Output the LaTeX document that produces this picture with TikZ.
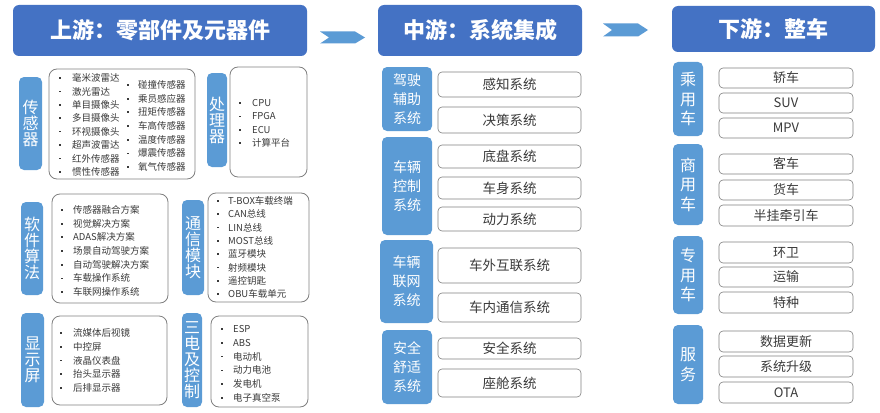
\documentclass[tikz,border=0pt]{standalone}
\usepackage{fontspec}
\setmainfont{Noto Sans CJK SC}
\definecolor{hdrblue}{HTML}{4472C4}
\definecolor{labblue}{HTML}{5B9BD5}
\definecolor{bordergray}{HTML}{808080}
\definecolor{txtgray}{HTML}{3A3A3A}
\newcommand\RBox[7]{\node[#1, minimum width={(#5-#3)*1pt}, minimum height={(#6-#4)*1pt}] (#2) at ({(#3+#5)/2},{(#4+#6)/2}) {#7};}
\tikzset{
 hdr/.style={fill=hdrblue, rounded corners=6pt, text=white, font=\fontsize{22}{24}\selectfont\bfseries, inner sep=0pt},
 lab/.style={fill=labblue, rounded corners=5pt, text=white, align=center, inner sep=0pt, font=\fontsize{16}{16}\selectfont},
 mlab/.style={lab, font=\fontsize{14}{19}\selectfont},
 dlab/.style={lab, font=\fontsize{16}{19.5}\selectfont},
 lst/.style={draw=bordergray, rounded corners=8pt, line width=0.8pt, fill=white, inner sep=0pt},
 itm/.style={draw=bordergray, rounded corners=4pt, line width=0.6pt, text=txtgray, inner sep=0pt, font=\fontsize{13.5}{14}\selectfont},
 ditm/.style={itm, font=\fontsize{13}{14}\selectfont},
 li/.style={anchor=west, inner sep=0pt, text=txtgray, font=\fontsize{9.5}{10}\selectfont},
 bul/.style={fill=txtgray, minimum size=1.7pt, inner sep=0pt},
 chev/.style={fill=labblue},
}
\begin{document}
\begin{tikzpicture}[x=1pt,y=-1pt]
\fill[white] (0,0) rectangle (880,412);
\useasboundingbox (0,0) rectangle (880,412);
% headers
\RBox{hdr}{h1}{13}{5}{307}{56}{上游：零部件及元器件}
\RBox{hdr}{h2}{378}{5}{582}{56}{中游：系统集成}
\RBox{hdr}{h3}{672}{6}{875}{52}{下游：整车}
% chevrons
\coordinate (c1) at (320,31.5);
\fill[chev] (c1) -- ++(35,0) -- ++(10,6) -- ++(-10,6) -- ++(-35,0) -- ++(9,-6) -- cycle;
\coordinate (c2) at (603,23.5);
\fill[chev] (c2) -- ++(35,0) -- ++(10,6.5) -- ++(-10,6.5) -- ++(-35,0) -- ++(9,-6.5) -- cycle;

% ===== upstream =====
\RBox{lab}{l1}{19}{77}{42}{170}{传\\感\\器}
\RBox{lst}{b1}{49}{69}{195}{179}{}
\foreach \t [count=\i] in {毫米波雷达,激光雷达,单目摄像头,多目摄像头,环视摄像头,超声波雷达,红外传感器,惯性传感器}{
  \pgfmathsetmacro\yy{78+(\i-1)*13.4}
  \node[bul] (sa\i b) at (60,\yy) {};
  \node[li] (sa\i) at (72,\yy) {\t};
}
\foreach \t [count=\i] in {碰撞传感器,乘员感应器,扭矩传感器,车高传感器,温度传感器,爆震传感器,氧气传感器}{
  \pgfmathsetmacro\yy{85+(\i-1)*13.67}
  \node[bul] (sb\i b) at (128,\yy) {};
  \node[li] (sb\i) at (138,\yy) {\t};
}
\RBox{lab}{l2}{207}{73}{227}{167}{处\\理\\器}
\RBox{lst}{b2}{230}{67}{307}{177}{}
\foreach \t [count=\i] in {CPU,FPGA,ECU,计算平台}{
  \pgfmathsetmacro\yy{103+(\i-1)*13.4}
  \node[bul] (p\i b) at (240,\yy) {};
  \node[li] (p\i) at (252,\yy) {\t};
}
\RBox{lab}{l3}{21}{202}{43}{295}{软\\件\\算\\法}
\RBox{lst}{b3}{52}{194}{168}{303}{}
\foreach \t [count=\i] in {传感器融合方案,视觉解决方案,ADAS解决方案,场景自动驾驶方案,自动驾驶解决方案,车载操作系统,车联网操作系统}{
  \pgfmathsetmacro\yy{210+(\i-1)*13.67}
  \node[bul] (sw\i b) at (62,\yy) {};
  \node[li] (sw\i) at (73,\yy) {\t};
}
\RBox{lab}{l4}{182}{200}{204}{295}{通\\信\\模\\块}
\RBox{lst}{b4}{208}{193}{309}{302}{}
\foreach \t [count=\i] in {T-BOX车载终端,CAN总线,LIN总线,MOST总线,蓝牙模块,射频模块,遥控钥匙,OBU车载单元}{
  \pgfmathsetmacro\yy{201+(\i-1)*13.3}
  \node[bul] (cm\i b) at (218,\yy) {};
  \node[li] (cm\i) at (228,\yy) {\t};
}
\RBox{lab}{l5}{21}{313}{44}{407}{显\\示\\屏}
\RBox{lst}{b5}{52}{316}{167}{405}{}
\foreach \t [count=\i] in {流媒体后视镜,中控屏,液晶仪表盘,抬头显示器,后排显示器}{
  \pgfmathsetmacro\yy{333+(\i-1)*13.75}
  \node[bul] (ds\i b) at (61,\yy) {};
  \node[li] (ds\i) at (73,\yy) {\t};
}
\RBox{lab}{l6}{182}{313}{202}{407}{三\\电\\及\\控\\制}
\RBox{lst}{b6}{211}{316}{308}{407}{}
\foreach \t [count=\i] in {ESP,ABS,电动机,动力电池,发电机,电子真空泵}{
  \pgfmathsetmacro\yy{329+(\i-1)*13.8}
  \node[bul] (el\i b) at (222,\yy) {};
  \node[li] (el\i) at (233,\yy) {\t};
}

% ===== midstream =====
\RBox{mlab}{m1}{382}{67}{432}{131}{驾驶\\辅助\\系统}
\RBox{itm}{m11}{438}{72}{581}{97}{感知系统}
\RBox{itm}{m12}{438}{107}{581}{133}{决策系统}
\RBox{mlab}{m2}{382}{137}{432}{235}{车辆\\控制\\系统}
\RBox{itm}{m21}{438}{145}{581}{168}{底盘系统}
\RBox{itm}{m22}{438}{177}{581}{199}{车身系统}
\RBox{itm}{m23}{438}{207}{581}{231}{动力系统}
\RBox{mlab}{m3}{380}{240}{433}{323}{车辆\\联网\\系统}
\RBox{itm}{m31}{438}{248}{581}{283}{车外互联系统}
\RBox{itm}{m32}{438}{293}{581}{322}{车内通信系统}
\RBox{mlab}{m4}{382}{330}{432}{404}{安全\\舒适\\系统}
\RBox{itm}{m41}{438}{338}{581}{359}{安全系统}
\RBox{itm}{m42}{438}{369}{581}{397}{座舱系统}

% ===== downstream =====
\RBox{dlab}{d1}{673}{62}{703}{136}{乘\\用\\车}
\RBox{ditm}{d11}{719}{68}{853}{88}{轿车}
\RBox{ditm}{d12}{719}{93}{853}{113}{SUV}
\RBox{ditm}{d13}{719}{118}{853}{138}{MPV}
\RBox{dlab}{d2}{673}{144}{703}{225}{商\\用\\车}
\RBox{ditm}{d21}{719}{154}{853}{174}{客车}
\RBox{ditm}{d22}{719}{180}{853}{200}{货车}
\RBox{ditm}{d23}{719}{205}{853}{226}{半挂牵引车}
\RBox{dlab}{d3}{673}{236}{703}{314}{专\\用\\车}
\RBox{ditm}{d31}{719}{242}{853}{263}{环卫}
\RBox{ditm}{d32}{719}{267}{853}{287}{运输}
\RBox{ditm}{d33}{719}{292}{853}{313}{特种}
\RBox{dlab}{d4}{673}{325}{703}{404}{服\\务}
\RBox{ditm}{d41}{719}{331}{853}{352}{数据更新}
\RBox{ditm}{d42}{719}{356}{853}{377}{系统升级}
\RBox{ditm}{d43}{719}{382}{853}{403}{OTA}
\end{tikzpicture}
\end{document}
